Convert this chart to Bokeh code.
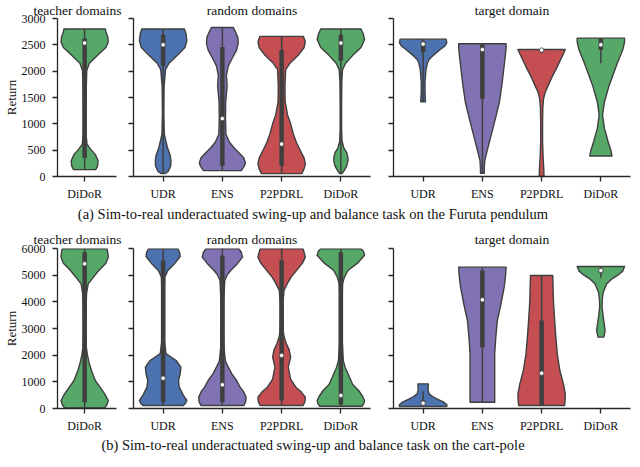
from bokeh.plotting import figure
from bokeh.layouts import row, column
from bokeh.models import Range1d, FixedTicker, Div, CustomJSTickFormatter
from bokeh.embed import file_html
from bokeh.resources import INLINE

SERIF = "Liberation Serif"
TXT = "#111111"
AX = "#262626"
EDGE = "#3f3f3f"
BOX = "#3f3f3f"
COLORS = {"UDR": "#4C72B0", "ENS": "#8172B3", "P2PDRL": "#C44E52", "DiDoR": "#55A868"}

# ---------------- categories / labels ----------------
teacher_cats = ["DiDoR"]
random_cats = ["UDR", "ENS", "P2PDRL", "DiDoR"]
target_cats = ["UDR", "ENS", "P2PDRL", "DiDoR"]
ticks_a = [0, 500, 1000, 1500, 2000, 2500, 3000]
ticks_b = [0, 1000, 2000, 3000, 4000, 5000, 6000]
caption_a = "(a) Sim-to-real underactuated swing-up and balance task on the Furuta pendulum"
caption_b = "(b) Sim-to-real underactuated swing-up and balance task on the cart-pole"

# ---------------- (a) Furuta pendulum ----------------
# violin profiles: return values (knots) and relative half widths; stats = whisker lo, q1, median, q3, whisker hi
a_teacher_didor_y = [130, 200, 300, 420, 520, 615, 800, 1200, 1700, 2012, 2150, 2300, 2450, 2550, 2650, 2750, 2800]
a_teacher_didor_w = [0.47, 0.55, 0.57, 0.45, 0.25, 0.1, 0.06, 0.06, 0.07, 0.09, 0.2, 0.55, 0.9, 1.0, 0.98, 0.9, 0.88]
a_teacher_didor_s = [130, 350, 2534, 2620, 2800]

a_random_udr_y = [55, 100, 200, 300, 400, 550, 800, 1200, 1700, 2030, 2150, 2300, 2450, 2570, 2700, 2800]
a_random_udr_w = [0.08, 0.22, 0.32, 0.33, 0.3, 0.18, 0.05, 0.03, 0.04, 0.1, 0.25, 0.6, 0.92, 1.0, 0.97, 0.9]
a_random_udr_s = [55, 2100, 2500, 2690, 2800]

a_random_ens_y = [112, 200, 260, 355, 450, 540, 650, 800, 1100, 1415, 1720, 1920, 2100, 2250, 2400, 2534, 2650, 2750, 2830]
a_random_ens_w = [0.8, 0.93, 0.97, 0.9, 0.7, 0.5, 0.3, 0.15, 0.13, 0.14, 0.2, 0.17, 0.25, 0.42, 0.6, 0.67, 0.65, 0.55, 0.46]
a_random_ens_s = [112, 205, 1100, 2460, 2830]

a_random_p2_y = [55, 150, 240, 350, 485, 650, 800, 1000, 1170, 1415, 1700, 2030, 2150, 2300, 2450, 2560, 2660]
a_random_p2_w = [0.85, 0.95, 1.0, 0.95, 0.8, 0.62, 0.5, 0.38, 0.25, 0.15, 0.14, 0.17, 0.35, 0.7, 0.95, 1.0, 0.92]
a_random_p2_s = [55, 205, 615, 2400, 2660]

a_random_didor_y = [55, 120, 200, 300, 355, 450, 550, 670, 900, 1400, 1800, 2030, 2150, 2300, 2450, 2600, 2700, 2800]
a_random_didor_w = [0.05, 0.15, 0.25, 0.3, 0.3, 0.25, 0.12, 0.05, 0.03, 0.03, 0.04, 0.07, 0.2, 0.5, 0.85, 1.0, 0.95, 0.85]
a_random_didor_s = [55, 2200, 2534, 2690, 2800]

a_target_udr_y = [1416, 1600, 1800, 2030, 2150, 2220, 2280, 2347, 2420, 2480, 2540, 2608]
a_target_udr_w = [0.1, 0.08, 0.08, 0.12, 0.18, 0.25, 0.38, 0.55, 0.75, 0.92, 1.0, 0.97]
a_target_udr_s = [1416, 2360, 2515, 2570, 2608]

a_target_ens_y = [60, 150, 300, 485, 800, 1100, 1415, 1730, 2030, 2300, 2450, 2520]
a_target_ens_w = [0.08, 0.08, 0.1, 0.2, 0.38, 0.55, 0.72, 0.82, 0.9, 0.97, 1.0, 1.0]
a_target_ens_s = [60, 1475, 2410, 2500, 2520]

a_target_p2_y = [0, 150, 400, 670, 1000, 1300, 1475, 1600, 1730, 1900, 2030, 2200, 2330, 2410]
a_target_p2_w = [0.1, 0.09, 0.06, 0.04, 0.04, 0.05, 0.08, 0.15, 0.28, 0.45, 0.6, 0.78, 0.92, 1.0]
a_target_p2_s = [2340, 2380, 2400, 2415, 2415]

a_target_didor_y = [390, 500, 670, 913, 1170, 1415, 1730, 2160, 2400, 2550, 2627]
a_target_didor_w = [0.47, 0.42, 0.3, 0.15, 0.07, 0.15, 0.35, 0.7, 0.92, 1.0, 1.0]
a_target_didor_s = [2150, 2400, 2500, 2620, 2627]

# ---------------- (b) cart-pole ----------------
b_teacher_didor_y = [20, 150, 300, 550, 800, 1050, 1400, 1675, 2000, 2300, 3000, 4000, 4300, 4675, 4900, 5175, 5450, 5675, 5850, 5990]
b_teacher_didor_w = [0.85, 0.95, 1.0, 0.85, 0.65, 0.45, 0.3, 0.2, 0.12, 0.07, 0.06, 0.07, 0.08, 0.15, 0.35, 0.6, 0.9, 1.0, 0.98, 0.95]
b_teacher_didor_s = [20, 237, 5425, 5862, 5990]

b_random_udr_y = [110, 200, 300, 500, 800, 1050, 1300, 1550, 1800, 2060, 2500, 3500, 4500, 4925, 5175, 5450, 5700, 5850, 5990]
b_random_udr_w = [0.85, 0.95, 1.0, 0.85, 0.68, 0.65, 0.72, 0.75, 0.55, 0.12, 0.06, 0.06, 0.06, 0.07, 0.2, 0.5, 0.72, 0.7, 0.62]
b_random_udr_s = [110, 237, 1137, 5550, 5990]

b_random_ens_y = [110, 250, 425, 650, 800, 1050, 1300, 1550, 1750, 1925, 2100, 2300, 3000, 4000, 4800, 5000, 5175, 5450, 5675, 5850, 5990]
b_random_ens_w = [0.9, 0.98, 1.0, 0.88, 0.75, 0.6, 0.4, 0.25, 0.14, 0.11, 0.09, 0.07, 0.06, 0.06, 0.1, 0.2, 0.35, 0.65, 0.85, 0.8, 0.7]
b_random_ens_s = [110, 237, 887, 5740, 5990]

b_random_p2_y = [110, 250, 425, 650, 800, 1100, 1550, 1925, 2200, 2425, 2700, 2925, 3500, 4000, 4425, 4700, 4925, 5200, 5450, 5675, 5850, 5990]
b_random_p2_w = [0.9, 0.98, 1.0, 0.8, 0.6, 0.38, 0.28, 0.38, 0.32, 0.2, 0.1, 0.07, 0.06, 0.06, 0.1, 0.25, 0.4, 0.65, 0.88, 1.0, 0.95, 0.9]
b_random_p2_s = [110, 300, 1990, 5550, 5990]

b_random_didor_y = [87, 200, 300, 450, 675, 900, 1300, 1550, 1800, 2500, 3500, 4300, 4675, 4925, 5175, 5450, 5750, 5900, 5990]
b_random_didor_w = [0.9, 0.98, 1.0, 0.92, 0.75, 0.5, 0.3, 0.18, 0.1, 0.06, 0.06, 0.06, 0.07, 0.15, 0.3, 0.7, 1.0, 0.95, 0.85]
b_random_didor_s = [87, 150, 490, 5860, 5990]

b_target_udr_y = [75, 150, 250, 350, 450, 550, 700, 925]
b_target_udr_w = [1.0, 1.0, 0.85, 0.6, 0.4, 0.25, 0.21, 0.22]
b_target_udr_s = [75, 120, 200, 300, 650]

b_target_ens_y = [237, 1000, 2050, 2600, 3300, 3900, 4550, 5000, 5300]
b_target_ens_w = [0.52, 0.52, 0.52, 0.56, 0.63, 0.78, 0.92, 0.98, 1.0]
b_target_ens_s = [237, 2300, 4075, 5175, 5300]

b_target_p2_y = [112, 300, 550, 925, 1425, 2050, 2675, 3300, 4000, 4990]
b_target_p2_w = [0.97, 0.99, 1.0, 0.92, 0.77, 0.66, 0.6, 0.55, 0.5, 0.47]
b_target_p2_s = [112, 112, 1325, 3300, 4990]

b_target_didor_y = [2675, 2925, 3425, 3800, 4100, 4360, 4675, 4850, 4990, 5150, 5325]
b_target_didor_w = [0.12, 0.18, 0.1, 0.05, 0.06, 0.1, 0.25, 0.45, 0.7, 0.92, 1.0]
b_target_didor_s = [4900, 5100, 5175, 5250, 5325]


def draw_violin(p, i, cat, ys, ws, stats):
    half = [0.4 * w for w in ws]
    xs = [i + h for h in half] + [i - h for h in reversed(half)]
    yy = list(ys) + list(reversed(ys))
    p.patch(xs, yy, fill_color=COLORS[cat], line_color=EDGE, line_width=1.4, line_join="round")
    wl, q1, med, q3, wh = stats
    p.segment([i], [wl], [i], [wh], line_color=BOX, line_width=1.5)
    p.segment([i], [q1], [i], [q3], line_color=BOX, line_width=4.5)
    p.scatter([i], [med], size=4.5, fill_color="white", line_color=BOX, line_width=0.8)


def make_panel(title, cats, xr, ymax, yticks, width, height, left, right, top, standoff, labels,
               title_offset=None):
    p = figure(width=width, height=height, x_range=Range1d(*xr), y_range=Range1d(0, ymax),
               output_backend="svg", toolbar_location=None,
               min_border_left=left, min_border_right=right, min_border_top=top, min_border_bottom=28)
    p.outline_line_color = None
    p.xgrid.visible = False
    p.ygrid.visible = False
    p.title.text = title
    if title_offset is None:
        p.title.align = "center"
    else:
        p.title.align = "left"
        p.title.offset = title_offset
    p.title.text_font = SERIF
    p.title.text_font_size = "13.5px"
    p.title.text_font_style = "normal"
    p.title.text_color = TXT
    p.title.standoff = standoff
    xa = p.xaxis[0]
    xa.ticker = FixedTicker(ticks=list(range(len(cats))))
    xa.major_label_overrides = {i: c for i, c in enumerate(cats)}
    xa.major_label_text_font = SERIF
    xa.major_label_text_font_size = "12px"
    xa.major_label_text_color = TXT
    xa.major_label_standoff = 5
    ya = p.yaxis[0]
    ya.ticker = FixedTicker(ticks=yticks)
    for ax in (xa, ya):
        ax.axis_line_color = AX
        ax.axis_line_width = 1.3
        ax.major_tick_line_color = AX
        ax.major_tick_line_width = 1.3
        ax.major_tick_out = 5
        ax.major_tick_in = 0
        ax.minor_tick_line_color = None
    if labels:
        ya.major_label_text_font = SERIF
        ya.major_label_text_font_size = "12px"
        ya.major_label_text_color = TXT
        ya.major_label_standoff = 7
        ya.axis_label = "Return"
        ya.axis_label_text_font = SERIF
        ya.axis_label_text_font_size = "13px"
        ya.axis_label_text_font_style = "normal"
        ya.axis_label_text_color = TXT
        ya.axis_label_standoff = 0
    else:
        ya.formatter = CustomJSTickFormatter(code="return ''")
        ya.major_label_standoff = 0
    return p


def build_row(ymax, yticks, height, top, standoff, teacher, random_, target):
    f1 = make_panel("teacher domains", teacher_cats, (-0.46, 0.54), ymax, yticks, 128, height, 50, 12, top,
                    standoff, True, title_offset=-24)
    f2 = make_panel("random domains", random_cats, (-0.5, 3.5), ymax, yticks, 259, height, 5, 17, top,
                    standoff, False)
    f3 = make_panel("target domain", target_cats, (-0.5, 3.5), ymax, yticks, 245, height, 6, 2, top,
                    standoff, False)
    for i, (ys, ws, st) in enumerate(teacher):
        draw_violin(f1, i, teacher_cats[i], ys, ws, st)
    for i, (ys, ws, st) in enumerate(random_):
        draw_violin(f2, i, random_cats[i], ys, ws, st)
    for i, (ys, ws, st) in enumerate(target):
        draw_violin(f3, i, target_cats[i], ys, ws, st)
    return row(f1, f2, f3)


row_a = build_row(3000, ticks_a, 204, 15, 1,
                  [(a_teacher_didor_y, a_teacher_didor_w, a_teacher_didor_s)],
                  [(a_random_udr_y, a_random_udr_w, a_random_udr_s),
                   (a_random_ens_y, a_random_ens_w, a_random_ens_s),
                   (a_random_p2_y, a_random_p2_w, a_random_p2_s),
                   (a_random_didor_y, a_random_didor_w, a_random_didor_s)],
                  [(a_target_udr_y, a_target_udr_w, a_target_udr_s),
                   (a_target_ens_y, a_target_ens_w, a_target_ens_s),
                   (a_target_p2_y, a_target_p2_w, a_target_p2_s),
                   (a_target_didor_y, a_target_didor_w, a_target_didor_s)])

row_b = build_row(6000, ticks_b, 212, 24, 3,
                  [(b_teacher_didor_y, b_teacher_didor_w, b_teacher_didor_s)],
                  [(b_random_udr_y, b_random_udr_w, b_random_udr_s),
                   (b_random_ens_y, b_random_ens_w, b_random_ens_s),
                   (b_random_p2_y, b_random_p2_w, b_random_p2_s),
                   (b_random_didor_y, b_random_didor_w, b_random_didor_s)],
                  [(b_target_udr_y, b_target_udr_w, b_target_udr_s),
                   (b_target_ens_y, b_target_ens_w, b_target_ens_s),
                   (b_target_p2_y, b_target_p2_w, b_target_p2_s),
                   (b_target_didor_y, b_target_didor_w, b_target_didor_s)])

cap_style = {"font-family": SERIF, "font-size": "14.5px", "text-align": "center",
             "color": TXT, "white-space": "nowrap", "padding-right": "6px", "box-sizing": "border-box"}
cap_a = Div(text=caption_a, width=632, height=20, margin=(0, 0, 0, 0),
            styles=dict(cap_style, **{"line-height": "20px"}))
cap_b = Div(text=caption_b, width=632, height=18, margin=(0, 0, 0, 0),
            styles=dict(cap_style, **{"line-height": "18px"}))

layout = column(row_a, cap_a, row_b, cap_b)
open("out.html", "w").write(file_html(layout, INLINE))
